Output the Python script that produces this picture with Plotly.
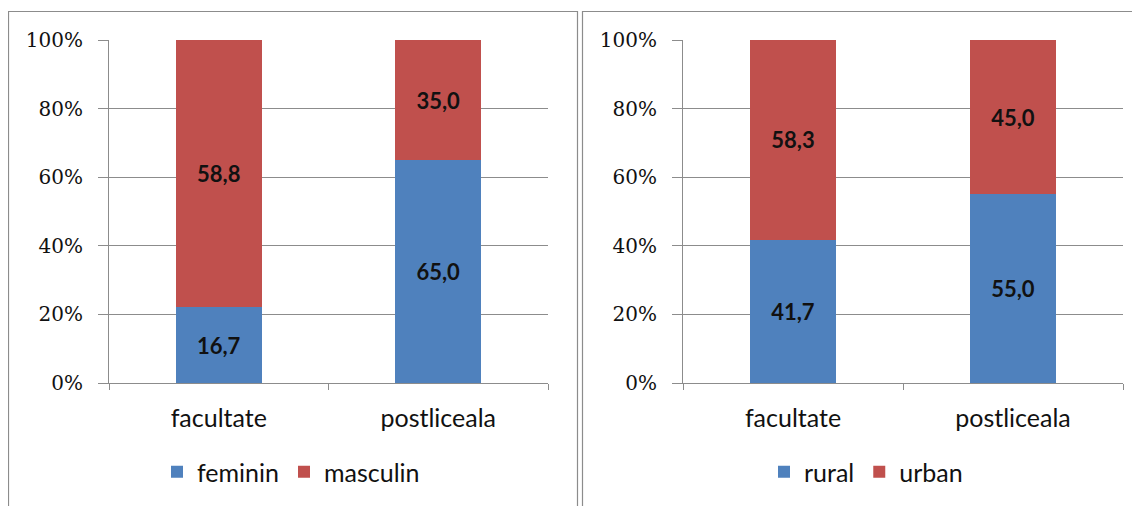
import plotly.graph_objects as go

categories = ["facultate", "postliceala"]
feminin = [16.7, 65.0]
masculin = [58.8, 35.0]
rural = [41.7, 55.0]
urban = [58.3, 45.0]
ytick_vals = [0, 20, 40, 60, 80, 100]
ytick_text = ["0%", "20%", "40%", "60%", "80%", "100%"]

BLUE = "#4F81BD"
RED = "#C0504D"
GRID = "#8C8C8C"
W, H = 1140, 506
OFF = 8  # page offset of the figure


def lab(vals):
    return [f"{v:.1f}".replace(".", ",") for v in vals]


def px(x):
    return (x - OFF) / W


def py(y):
    return 1 - (y - OFF) / H


fig = go.Figure()
dl_font = dict(family="Lato", size=22, color="#111111", weight="bold")


def add(vals, name, color, xa, ya, lg):
    fig.add_trace(go.Bar(x=categories, y=vals, name=name, marker_color=color,
                         marker_line_width=0,
                         text=lab(vals), textposition="inside", insidetextanchor="middle",
                         textfont=dl_font, textangle=0, xaxis=xa, yaxis=ya, legend=lg,
                         hoverinfo="skip"))


add(feminin, "feminin", BLUE, "x", "y", "legend")
add(masculin, "masculin", RED, "x", "y", "legend")
add(rural, "rural", BLUE, "x2", "y2", "legend2")
add(urban, "urban", RED, "x2", "y2", "legend2")

ydom = [py(383), py(40)]
yax = dict(range=[0, 100], tickmode="array", tickvals=ytick_vals, ticktext=ytick_text,
           showgrid=True, gridcolor=GRID, gridwidth=1, showline=True, linecolor=GRID,
           ticks="outside", ticklen=10, tickcolor=GRID, zeroline=False, automargin=False,
           ticklabelstandoff=11,
           tickfont=dict(family="DejaVu Serif", size=20, color="#111111"), domain=ydom)
xax = dict(type="category", showline=True, linecolor=GRID, ticks="outside",
           tickson="boundaries", ticklen=6, tickcolor=GRID, showgrid=False, automargin=False,
           ticklabelstandoff=13,
           tickfont=dict(family="Lato", size=25, color="#111111"))

leg = dict(orientation="h", xanchor="left", yanchor="middle", xref="paper", yref="paper",
           font=dict(family="Lato", size=25, color="#111111"),
           bgcolor="rgba(0,0,0,0)", itemwidth=30, traceorder="normal")

fig.update_layout(
    width=W, height=H, margin=dict(l=0, r=0, t=0, b=0, pad=0, autoexpand=False),
    paper_bgcolor="white", plot_bgcolor="white",
    barmode="stack", barnorm="percent", bargap=0.61,
    showlegend=True,
    xaxis=dict(domain=[px(109), px(548)], anchor="y", **xax),
    yaxis=dict(anchor="x", **yax),
    xaxis2=dict(domain=[px(683), px(1123)], anchor="y2", **xax),
    yaxis2=dict(anchor="x2", **yax),
    legend=dict(x=(197 - OFF - 40) / W, y=1 - (472 - OFF) / H, **leg),
    legend2=dict(x=(804 - OFF - 40) / W, y=1 - (472 - OFF) / H, **leg),
    shapes=[
        dict(type="rect", xref="paper", yref="paper", x0=px(8.5), x1=px(577.5), y0=-0.1, y1=py(11.5),
             line=dict(color=GRID, width=1.2)),
        dict(type="rect", xref="paper", yref="paper", x0=px(582.5), x1=px(1160), y0=-0.1, y1=py(11.5),
             line=dict(color=GRID, width=1.2)),
    ],
)

fig.write_html("out.html")
